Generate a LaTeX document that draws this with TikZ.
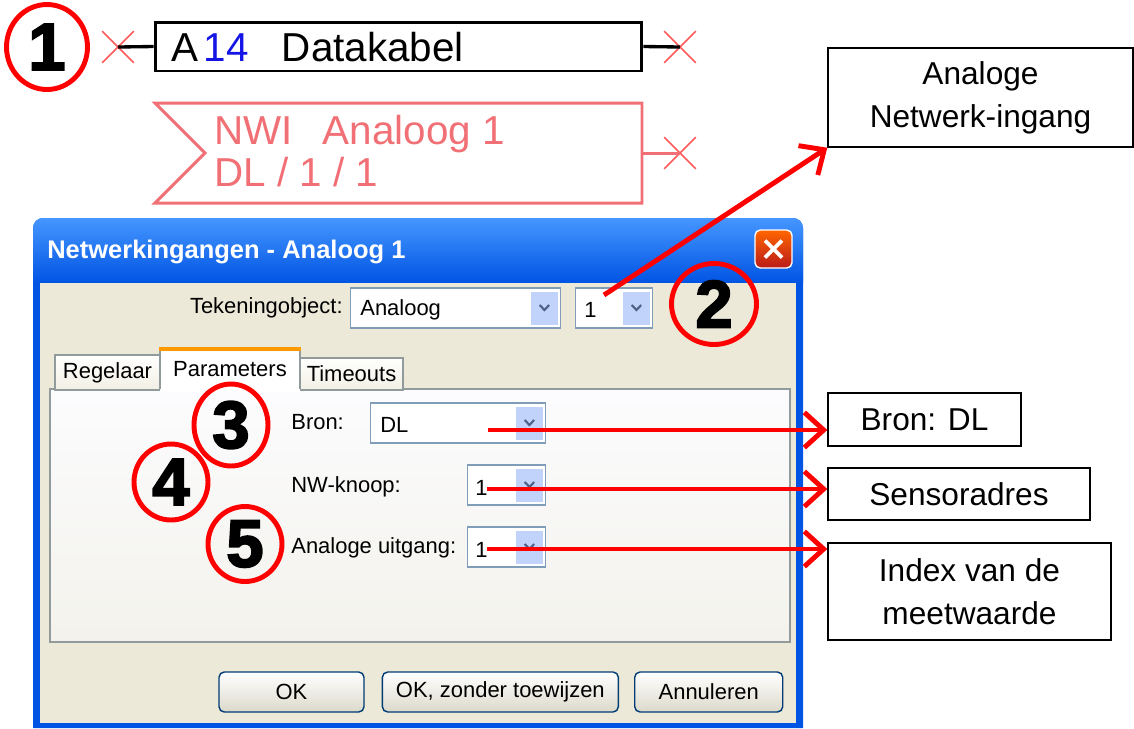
\documentclass[tikz,border=0pt]{standalone}
\usepackage{fontspec}
\setmainfont{Liberation Sans}
\newfontfamily\numfont{Liberation Sans}[UprightFeatures={FakeBold=3}, BoldFeatures={FakeBold=3}]
\usetikzlibrary{shapes.geometric, shapes.misc, arrows.meta, positioning}
\definecolor{xpblue}{RGB}{0,84,227}
\definecolor{xplight}{RGB}{70,150,255}
\definecolor{xpbeige}{RGB}{236,233,216}
\definecolor{tabline}{RGB}{145,155,156}
\definecolor{comboline}{RGB}{127,157,185}
\definecolor{combobtn}{RGB}{193,211,251}
\definecolor{chevron}{RGB}{77,97,133}
\definecolor{nwired}{RGB}{240,112,118}
\definecolor{xred}{RGB}{255,90,90}
\definecolor{btnline}{RGB}{0,60,116}
\definecolor{numblue}{RGB}{20,20,230}
\tikzstyle{numcircle} = [
  ellipse,
  draw=red,
  line width=2.8pt,
  inner sep=0pt,
  font=\numfont\bfseries\fontsize{38}{38}\selectfont
]
\tikzstyle{notebox} = [
  rectangle,
  draw=black,
  line width=0.8pt,
  align=center,
  inner sep=0pt,
  font=\fontsize{18}{24.5}\selectfont
]
\tikzstyle{dlgtext} = [inner sep=0pt, font=\fontsize{12.5}{15}\selectfont]
\tikzstyle{combobox} = [
  rectangle,
  draw=comboline,
  fill=white,
  line width=0.8pt,
  minimum height=0.8cm,
  inner sep=0pt,
  path picture={
    \fill[combobtn] ([shift={(-0.6cm,-0.07cm)}]path picture bounding box.north east)
      rectangle ([shift={(-0.05cm,0.07cm)}]path picture bounding box.south east);
    \draw[chevron, line width=1.2pt] ([shift={(-0.42cm,0.06cm)}]path picture bounding box.east)
      -- ([shift={(-0.325cm,-0.04cm)}]path picture bounding box.east)
      -- ([shift={(-0.23cm,0.06cm)}]path picture bounding box.east);
  }
]
\tikzstyle{tab} = [
  rectangle,
  draw=tabline,
  line width=0.6pt,
  top color=white,
  bottom color=xpbeige!70,
  dlgtext
]
\tikzstyle{button} = [
  rectangle,
  rounded corners=3pt,
  draw=btnline,
  line width=0.8pt,
  top color=white,
  bottom color=xpbeige!85!gray,
  minimum height=0.8cm,
  dlgtext
]
\tikzstyle{xcross} = [cross out, draw=xred, line width=0.9pt, minimum size=0.6cm, inner sep=0pt]
\tikzstyle{arrow} = [draw=red, line width=2.8pt, -{Straight Barb[length=11pt, width=20pt]}]

\begin{document}
\begin{tikzpicture}[x=0.02cm, y=-0.02cm]
    \useasboundingbox (0,0) rectangle (1134,728);

    \fill[xpblue] (33,728) [rounded corners=0.2cm] -- (33,218) -- (803,218) [sharp corners] -- (803,728) -- cycle;
    \shade[top color=xplight, bottom color=xpblue] (33,283) [rounded corners=0.2cm] -- (33,218) -- (803,218) [sharp corners] -- (803,283) -- cycle;
    \fill[xpbeige] (40,283) rectangle (796,723);
    \node[anchor=west, inner sep=0pt, text=white, font=\bfseries\fontsize{14.5}{16}\selectfont] (title) at (47,252) {Netwerkingangen - Analoog 1};
    \node[rectangle, rounded corners=3pt, draw=white, line width=0.8pt, top color=orange!80!red, bottom color=red!70!black!90, minimum width=0.74cm, minimum height=0.76cm] (close) at (773.5,249) {};
    \draw[white, line width=2.2pt] ([shift={(-0.17cm,0.17cm)}]close.center) -- ([shift={(0.17cm,-0.17cm)}]close.center);
    \draw[white, line width=2.2pt] ([shift={(-0.17cm,-0.17cm)}]close.center) -- ([shift={(0.17cm,0.17cm)}]close.center);

    \node[dlgtext, anchor=east] (objlabel) at (343,308) {Tekeningobject:};
    \node[combobox, anchor=west, minimum width=4.2cm] (objtype) at (350,308) {};
    \node[dlgtext, anchor=west] (objtypetext) at (360,310) {Analoog};
    \node[combobox, anchor=west, minimum width=1.54cm] (objnr) at (575,308) {};
    \node[dlgtext, anchor=west] (objnrtext) at (584,310) {1};

    \shade[top color={rgb,255:red,252;green,252;blue,254}, bottom color={rgb,255:red,243;green,242;blue,236}] (50,389) rectangle (790,642);
    \draw[tabline, line width=0.6pt] (50,389) rectangle (790,642);
    \node[tab, minimum width=2.1cm, minimum height=0.7cm] (regelaar) at (107.5,372.5) {Regelaar};
    \node[tab, minimum width=2.06cm, minimum height=0.64cm] (timeouts) at (351.5,374) {Timeouts};
    \node[tab, fill=white, top color=white, bottom color=white, minimum width=2.8cm, minimum height=0.84cm] (parameters) at (230,369) {Parameters};
    \fill[white] ([shift={(0.02cm,-0.02cm)}]parameters.south west) rectangle ([shift={(-0.02cm,0.03cm)}]parameters.south east);
    \fill[orange!80!yellow] (parameters.north west) rectangle ([yshift=-0.07cm]parameters.north east);

    \node[dlgtext, anchor=west] (bronlabel) at (291,422) {Bron:};
    \node[combobox, anchor=west, minimum width=3.5cm] (bron) at (370,423) {};
    \node[dlgtext, anchor=west] (brontext) at (380,425) {DL};
    \node[dlgtext, anchor=west] (knooplabel) at (291,487) {NW-knoop:};
    \node[combobox, anchor=west, minimum width=1.56cm] (knoop) at (467,485) {};
    \node[dlgtext, anchor=west] (knooptext) at (475,488) {1};
    \node[dlgtext, anchor=west] (uitganglabel) at (291,548) {Analoge uitgang:};
    \node[combobox, anchor=west, minimum width=1.56cm] (uitgang) at (467,547) {};
    \node[dlgtext, anchor=west] (uitgangtext) at (475,550) {1};

    \node[button, minimum width=2.9cm] (ok) at (291.5,692) {OK};
    \node[button, minimum width=4.72cm, right=0.34cm of ok] (nosave) {OK, zonder toewijzen};
    \node[button, minimum width=2.96cm, right=0.3cm of nosave] (cancel) {Annuleren};

    \node[rectangle, draw=black, line width=1.7pt, minimum width=9.74cm, minimum height=0.98cm] (cable) at (398.5,46.5) {};
    \node[anchor=west, inner sep=0pt, font=\fontsize{23}{24}\selectfont] (cabletext) at (171,47) {A\hspace{3pt}\textcolor{numblue}{14}\hspace{19pt}Datakabel};
    \node[xcross] (cablein) at (118,47) {};
    \node[xcross] (cableout) at (680,47) {};
    \draw[black, line width=1.9pt] (cablein.center) -- (cable.west);
    \draw[black, line width=1.9pt] (cable.east) -- (cableout.center);

    \draw[nwired, line width=1.7pt] (155,103) -- (642,103) -- (642,203) -- (155,203) -- (205,153) -- cycle;
    \coordinate (nwiright) at (642,153);
    \node[anchor=west, align=left, inner sep=0pt, text=nwired, font=\fontsize{23}{24}\selectfont] (nwitext) at (214,151) {NWI\hspace{17pt}Analoog 1\\DL / 1 / 1};
    \node[xcross] (nwiout) at (680,153) {};
    \draw[nwired, line width=1.7pt] (nwiright) -- (nwiout.center);

    \node[numcircle, minimum width=1.62cm, minimum height=1.7cm] (one) at (47,47) {1};
    \node[numcircle, minimum width=1.7cm, minimum height=1.62cm] (two) at (714,304) {2};
    \node[numcircle, minimum width=1.48cm, minimum height=1.64cm] (three) at (231,425) {3};
    \node[numcircle, minimum width=1.48cm, minimum height=1.52cm] (four) at (171,482) {4};
    \node[numcircle, minimum width=1.48cm, minimum height=1.5cm] (five) at (245,544) {5};

    \node[notebox, minimum width=6.1cm, minimum height=1.98cm] (netlabel) at (980.5,97.5) {Analoge\\Netwerk-ingang};
    \node[notebox, minimum width=3.86cm, minimum height=1.06cm] (bronnote) at (924.5,419.5) {Bron: DL};
    \node[notebox, minimum width=5.24cm, minimum height=1.04cm] (sensornote) at (959,494) {Sensoradres};
    \node[notebox, minimum width=5.66cm, minimum height=1.94cm] (indexnote) at (969.5,591.5) {Index van de\\meetwaarde};

    \coordinate (objpt) at (604,295);
    \coordinate (bronpt) at (488,430);
    \coordinate (knooppt) at (487,489);
    \coordinate (uitgangpt) at (487,549);
    \draw[arrow] (objpt) -- (netlabel.south west);
    \draw[arrow] (bronpt) -- (bronpt -| bronnote.west);
    \draw[arrow] (knooppt) -- (knooppt -| sensornote.west);
    \draw[arrow] (uitgangpt) -- (uitgangpt -| indexnote.west);
\end{tikzpicture}
\end{document}
